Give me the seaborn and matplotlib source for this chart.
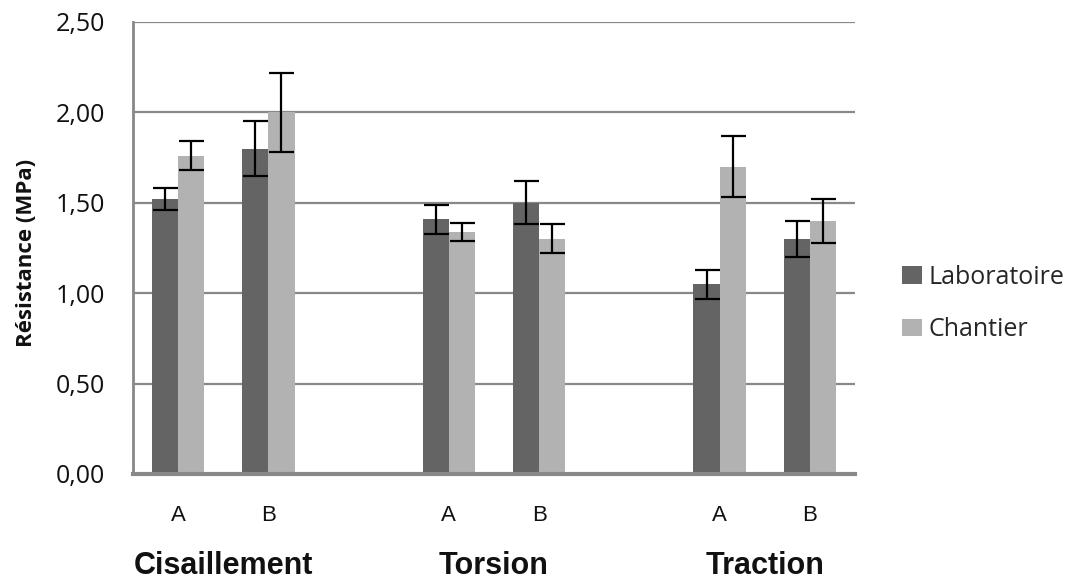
import matplotlib
matplotlib.use("Agg")
import matplotlib.pyplot as plt
import matplotlib.transforms as mtransforms
from matplotlib.container import BarContainer
import seaborn as sns
import pandas as pd
import numpy as np

# ---- data ----
groups = ["Cisaillement", "Torsion", "Traction"]
variants = ["A", "B"]
series = ["Laboratoire", "Chantier"]
lab_values = [1.52, 1.80, 1.41, 1.50, 1.05, 1.30]
lab_errors = [0.06, 0.15, 0.08, 0.12, 0.08, 0.10]
chantier_values = [1.76, 2.00, 1.34, 1.30, 1.70, 1.40]
chantier_errors = [0.08, 0.22, 0.05, 0.08, 0.17, 0.12]
y_ticks = [0.0, 0.5, 1.0, 1.5, 2.0, 2.5]
y_tick_labels = ["0,00", "0,50", "1,00", "1,50", "2,00", "2,50"]
ylabel = "Résistance (MPa)"

# slot order with blank spacer slots between groups
slot_order = []
tick_labels = []
for gi, g in enumerate(groups):
    for v in variants:
        slot_order.append(f"{g} {v}")
        tick_labels.append(v)
    if gi < len(groups) - 1:
        slot_order.append(f"gap{gi}")
        tick_labels.append("")

rows = []
k = 0
for g in groups:
    for v in variants:
        slot = f"{g} {v}"
        rows.append({"slot": slot, "series": series[0], "value": lab_values[k], "err": lab_errors[k]})
        rows.append({"slot": slot, "series": series[1], "value": chantier_values[k], "err": chantier_errors[k]})
        k += 1
df = pd.DataFrame(rows)
err_lookup = {(r.slot, r.series): (r.value, r.err) for r in df.itertuples()}

# ---- style ----
sns.set_theme(style="white")
plt.rcParams["font.family"] = ["Open Sans", "DejaVu Sans"]
dark = "#646464"
light = "#b2b2b2"
grid_color = "#888888"

fig = plt.figure(figsize=(10.75, 5.81), dpi=100)
ax = fig.add_axes([133 / 1075, 107 / 581, 722 / 1075, 452 / 581])

sns.barplot(data=df, x="slot", y="value", hue="series", order=slot_order,
            hue_order=series, palette=[dark, light], width=0.58, saturation=1,
            errorbar=None, linewidth=0, ax=ax)

# error bars
bar_containers = [c for c in ax.containers if isinstance(c, BarContainer)]
for ci, container in enumerate(bar_containers):
    s = series[ci]
    xs, ys, es = [], [], []
    for bar in container:
        cx = bar.get_x() + bar.get_width() / 2
        slot = slot_order[int(round(cx))]
        val, err = err_lookup[(slot, s)]
        xs.append(cx); ys.append(val); es.append(err)
    ax.errorbar(xs, ys, yerr=es, fmt="none", ecolor="black", elinewidth=1.6,
                capsize=9, capthick=1.6, zorder=5)

ax.set_ylim(0, 2.5)
ax.set_xlim(-0.5, len(slot_order) - 0.5)
ax.set_yticks(y_ticks)
ax.set_yticklabels(y_tick_labels, fontsize=18, color="#111111")
ax.set_xticks(range(len(slot_order)))
ax.set_xticklabels(tick_labels, fontsize=16, family=["Liberation Sans", "DejaVu Sans"], color="#111111")
ax.tick_params(axis="y", length=0, pad=20)
ax.tick_params(axis="x", length=0, pad=22)
ax.set_xlabel("")
ax.set_ylabel(ylabel, fontsize=16, fontweight="bold", color="#111111")
ax.yaxis.set_label_coords(-0.133, 0.49)

# gridlines
ax.yaxis.grid(True, color=grid_color, linewidth=1.6)
ax.set_axisbelow(True)
for sp in ["top", "right"]:
    ax.spines[sp].set_visible(False)
ax.spines["left"].set_color(grid_color)
ax.spines["left"].set_linewidth(2)
ax.spines["bottom"].set_color(grid_color)
ax.spines["bottom"].set_linewidth(3)

# group labels
trans = mtransforms.blended_transform_factory(ax.transData, ax.transAxes)
for gi, g in enumerate(groups):
    idx = [slot_order.index(f"{g} {v}") for v in variants]
    ax.text(np.mean(idx), -0.221, g, transform=trans, ha="center", va="baseline",
            fontsize=22, fontweight="bold", family=["Liberation Sans", "DejaVu Sans"],
            color="#111111")

# legend
handles, labels = ax.get_legend_handles_labels()
if ax.get_legend() is not None:
    ax.get_legend().remove()
fig.legend(handles, labels, loc="center left", bbox_to_anchor=(902 / 1075, 1 - 303.5 / 581),
           frameon=False, fontsize=18, handlelength=0.8, handleheight=0.7,
           handletextpad=0.25, labelspacing=1.1, borderpad=0, borderaxespad=0)

fig.savefig("out.png", dpi=100)
